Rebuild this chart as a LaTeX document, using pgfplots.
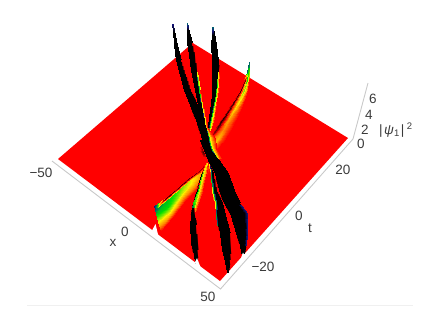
\documentclass[border=0pt]{standalone}
\usepackage{pgfplots}
\usepackage{fontspec}
\setmainfont{Liberation Sans}
\pgfplotsset{compat=1.18}
\definecolor{axl}{HTML}{C9C9C9}
\definecolor{txt}{HTML}{3A3A3A}
\tikzset{lab/.style={text=txt,inner sep=0pt,font=\fontsize{13.5}{15}\selectfont}}
\pgfplotsset{
  rid/.style={surf,shader=interp,mesh/cols=#1,point meta=explicit,forget plot},
  colormap={mm}{rgb255=(0,0,0) rgb255=(130,0,0) rgb255=(255,0,0) rgb255=(255,140,0) rgb255=(255,240,0) rgb255=(0,225,0) rgb255=(0,95,110) rgb255=(20,20,120) rgb255=(0,0,0)}
}
\begin{document}
\begin{tikzpicture}
\begin{axis}[x=1pt,y=1pt,xmin=0,xmax=448,ymin=0,ymax=317,y dir=reverse,hide axis,
  point meta min=-2,point meta max=6,colormap name=mm]
\path (axis cs:0,0) rectangle (axis cs:448,317);
% plate and axes
\addplot[draw=none,fill=red,forget plot] coordinates {(58,159) (192.7,43) (348,138) (220,281) (58,159)};
\addplot[axl,line width=0.9pt,forget plot] coordinates {(52,161) (220.5,289) (353,139) (368,83)};
\addplot[color=black!6,line width=0.7pt,forget plot] coordinates {(27,305) (413,305)};
% ridge D
\addplot[rid=6] table[meta=c] {
x y c
248.8 62 4
248.9 62 4
249 62 4
249.2 62 4
249.3 62 4
249.4 62 4
247.2 72 4
247.3 72 4
247.6 72 3.5
248.2 72 3
248.8 72 2.5
249 72 2.5
244.5 80 0
245 80 -1
246 80 1
247 80 3
248 80 2
249 80 0
240 90 0
241 90 -1.5
242.5 90 0.5
244.5 90 2.5
246 90 1.5
248 90 0
234 100 0
235.5 100 -1.5
237.5 100 0.5
240 100 2
242 100 1
245 100 0
227 110 0
229 110 -1.5
231.5 110 0.3
234.5 110 1.7
237 110 0.8
241 110 0
220 120 0
222.5 120 -1.8
225 120 0
228.5 120 1.2
232 120 0.6
236 120 0
214 130 0
216 130 -1.2
219 130 0.3
223 130 1
227 130 0.5
231 130 0
208 140 0
209 140 0
213 140 1
217 140 1.5
221 140 0.5
225 140 0
206 150 0
206.5 150 0
208 150 1
211 150 1
213 150 0.5
216 150 0
};
% ridge E
\addplot[rid=6] table[meta=c] {
x y c
154 205.5 5
154.2 206 5
154.8 210 4
155.8 214 3.2
158 222 2
161 231 0
165 197.5 0
165.5 198.5 -1.5
166 201 3.3
168 207 3
170 212 2
173 217 0
178 187 0
178.5 188 -1.5
179.5 190 2.7
181.5 193 2.2
184 197 1
186 200 0
188 178 0
188.5 179 -1.5
189.5 180.5 2.2
191.5 183 2
194 187 1
196 190 0
199 170.5 0
199.3 171 -1
200.5 173 1.3
202 175 1
203.5 177 0.6
205 179 0
206 163 0
206.3 163.5 -0.5
207 165 0.5
208 166 0.5
209 167 0.3
210 169 0
};
% ridge F, coloured part
\addplot[rid=6] table[meta=c] {
x y c
205.5 163 0
205.7 163 0
206 163 1
207 163 2
208 163 1
208.5 163 0
201 175 0
201.5 175 -2
202 175 2.7
203.5 175 2
205 175 1
206.5 175 0
196.5 190 0
197 190 -2
197.8 190 3
199.5 190 2.2
201.5 190 1
203.5 190 0
192.2 203 0
192.7 203 -2
193.3 203 3
195 203 2.7
197 203 1.2
199 203 0
190.3 212 0
190.8 212 -2
191.5 212 5
192.5 212 3
194.5 212 1
196 212 0
};
% ridge F, black part
\addplot[rid=4] table[meta=c] {
x y c
191.5 208 0
192 208 -2
193 208 -2
193.5 208 0
190.2 215 0
190.7 215 -2
194.3 215 -2
194.8 215 0
190 225 0
190.5 225 -2
196 225 -2
196.5 225 0
191 243 0
191.5 243 -2
197.5 243 -2
198 243 0
193 255 0
193.5 255 -2
197.5 255 -2
198 255 0
195 263 0
195 263 -2
196.5 263 -2
196.5 263 0
};
% ridge C
\addplot[rid=4] table[meta=c] {
x y c
212.3 29 -2
212.3 29 -2
212.8 29 -2
212.8 29 -2
212 33 -2
212 33 -2
213.5 33 -2
213.5 33 -2
211.5 45 -2
211.5 45 -2
216 45 -2
216 45 -2
211.7 60 0
212 60 -2
218 60 -2
218.3 60 -2
212 70 0
212.3 70 -2
218.5 70 -2
219 70 0
212.2 80 0
212.5 80 -2
218 80 -2
218.5 80 0
211.7 95 0
212 95 -2
216 95 -2
216.5 95 0
209.7 110 0
210 110 -2
213 110 -2
213.5 110 0
207.7 125 0
208 125 -2
210 125 -2
210.5 125 0
206.3 135 0
206.5 135 -2
208 135 -2
208.3 135 0
};
\addplot[rid=4] table[meta=c] {
x y c
217.5 72 6
218 72 4
218.4 72 2
218.8 72 0
216.8 85 6
217.5 85 3
218.2 85 2
219.5 85 0
214.5 100 6
215.2 100 3
216 100 2
217.5 100 0
211.5 115 6
212.2 115 3
213 115 2
214.5 115 0
208.5 130 6
209.2 130 3
210 130 2
211.5 130 0
};
% ridge B
\addplot[rid=4] table[meta=c] {
x y c
186.7 24 -2
186.7 24 -2
187.2 24 -2
187.2 24 -2
187.3 28 -2
187.3 28 -2
188.2 28 -2
188.2 28 -2
187.5 35 -2
187.5 35 -2
190.5 35 -2
190.5 35 -2
187.5 43 -2
187.5 43 -2
192.5 43 -2
192.5 43 0
188.7 55 0
189 55 -2
194.5 55 -2
195 55 0
191.2 70 0
191.5 70 -2
196.5 70 -2
197 70 0
194.7 90 0
195 90 -2
199 90 -2
199.5 90 0
198.2 105 0
198.5 105 -2
201.5 105 -2
202 105 0
201.7 120 0
202 120 -2
204 120 -2
204.5 120 0
203.7 130 0
204 130 -2
205.5 130 -2
206 130 0
};
\addplot[rid=4] table[meta=c] {
x y c
196.3 72 6
196.7 72 3
197 72 2
197.5 72 0
198.5 90 6
199 90 3
199.6 90 2
200.5 90 0
201.2 105 6
201.8 105 3
202.4 105 2
203.2 105 0
204 120 6
204.6 120 3
205.2 120 2
206 120 0
205.5 130 6
206 130 3
206.5 130 2
207 130 0
};
% ridge G
\addplot[rid=4] table[meta=c] {
x y c
209 163 0
209.5 163 -2
210 163 -2
210.5 163 0
211.2 175 0
211.7 175 -2
213.5 175 -2
214 175 0
212.8 190 0
213.3 190 -2
216.5 190 -2
217 190 0
215.5 203 0
216 203 -2
222 203 -2
222.5 203 0
216 215 0
216.5 215 -2
225 215 -2
225.5 215 0
219.5 233 0
220 233 -2
230 233 -2
230.5 233 0
222 250 0
222.5 250 -2
230.5 250 -2
231 250 0
224.7 262 0
225 262 -2
229.5 262 -2
229.8 262 0
227 272 0
227 272 -2
228 272 -2
228 272 0
};
\addplot[rid=4] table[meta=c] {
x y c
208.8 163 0
209.2 163 2
209.6 163 3.5
210 163 6
210 175 0
210.6 175 2
211.2 175 3.5
212 175 6
211.8 190 0
212.5 190 2
213.2 190 3.5
214 190 6
214.3 203 0
215 203 2
215.8 203 3.5
217 203 6
215.5 215 0
215.8 215 2
216.2 215 3.5
217 215 6
217 225 0
217.2 225 2
217.5 225 3.5
218 225 6
};
% dark spot left of the crossing
\addplot[rid=3] table[meta=c] {
x y c
199 146 0
202 147 -1
204 148 0
200 152 0
203 152 -1.5
206 152 0
203 157 0
205 156 -0.5
208 157 0
};
% ridge A
\addplot[rid=4] table[meta=c] {
x y c
172.2 25 -2
172.2 25 -2
172.7 25 -2
172.7 25 -2
173 30 -2
173 30 -2
174.2 30 -2
174.2 30 -2
174.5 45 -2
174.5 45 -2
177.5 45 -2
177.5 45 -2
176.3 60 0
176.5 60 -2
181 60 -2
181.3 60 0
179.7 75 0
180 75 -2
185.5 75 -2
186 75 0
184 90 0
184.5 90 -2
190.5 90 -2
191 90 0
190 105 0
190.5 105 -2
197 105 -2
197.5 105 0
195.5 120 0
196 120 -2
203 120 -2
203.5 120 0
200.5 135 0
201 135 -2
208 135 -2
208.5 135 0
203 145 0
203.5 145 -2
210 145 -2
210.5 145 0
};
% ridge H
\addplot[rid=4] table[meta=c] {
x y c
199.5 140 0
200 140 -2
208 140 -2
208.5 140 0
203.5 150 0
204 150 -2
213 150 -2
213.5 150 0
208 160 0
208.5 160 -2
219 160 -2
219.5 160 0
214.5 173 0
215 173 -2
228 173 -2
228.5 173 0
218.5 190 0
219 190 -2
234 190 -2
234.5 190 0
223.5 203 0
224 203 -2
240 203 -2
240.5 203 0
229.5 213 0
230 213 -2
246.5 213 -2
247 213 0
236 233 0
236.5 233 -2
246.5 233 -2
247 233 0
239.5 245 0
240 245 -2
245.5 245 -2
246 245 0
241.5 253 0
241.5 253 -2
244.5 253 -2
244.5 253 0
};
\addplot[rid=2] table[meta=c] {
x y c
238.5 205 6
241 205 5
244.5 213 6
247 213 5
245 233 6
247 233 5
244 245 6
245.5 245 5
};
% glow on the right of the crossing
\addplot[rid=5] table[meta=c] {
x y c
206.5 128 6
206.8 128 3.2
207 128 2
207.3 128 1
207.6 128 0
208.3 138 6
209.3 138 3.2
210.5 138 2
212.5 138 1
215 138 0
210.5 148 6
211.5 148 3.2
212.5 148 2
214 148 1
216 148 0
218 158 2
218.5 158 1.5
219 158 1
220 158 0.5
222 158 0
};
% tips
\addplot[rid=2] table[meta=c] {
x y c
172.2 24 5
172.7 24 5
172.8 32 6
174.4 32 6
};
\addplot[rid=2] table[meta=c] {
x y c
186.6 22.5 4
187 22.5 4
187.3 30 6
188.6 30 6
};
\addplot[rid=2] table[meta=c] {
x y c
212.2 27 4
212.6 27 4
212 35 6
213.8 35 6
};
% white notches in the plate edge
\addplot[draw=none,fill=white,forget plot] coordinates {(152,230.5) (155.5,224) (158.5,236.5) (152,230.5)};
\addplot[draw=none,fill=white,forget plot] coordinates {(194.5,263) (197,258) (200.5,267) (194.5,263)};
\addplot[draw=none,fill=white,forget plot] coordinates {(241,258) (243,252.5) (244.5,255) (241,258)};
% labels
\node[lab] at (axis cs:41,173) {−50};
\node[lab] at (axis cs:125,232) {0};
\node[lab] at (axis cs:113,243) {x};
\node[lab] at (axis cs:208,297) {50};
\node[lab] at (axis cs:263,267) {−20};
\node[lab] at (axis cs:299,216) {0};
\node[lab] at (axis cs:310,228) {t};
\node[lab] at (axis cs:343,170) {20};
\node[lab] at (axis cs:361,144) {0};
\node[lab] at (axis cs:365,130) {2};
\node[lab] at (axis cs:369,115) {4};
\node[lab] at (axis cs:373,99) {6};
\node[lab,anchor=west] at (axis cs:379,130) {|\hspace{1.5pt}\textit{ψ}\raisebox{-2pt}{\fontsize{9.5}{10}\selectfont 1}\hspace{1.5pt}|\hspace{2.5pt}\raisebox{5pt}{\fontsize{9.5}{10}\selectfont 2}};
\end{axis}
\end{tikzpicture}
\end{document}
